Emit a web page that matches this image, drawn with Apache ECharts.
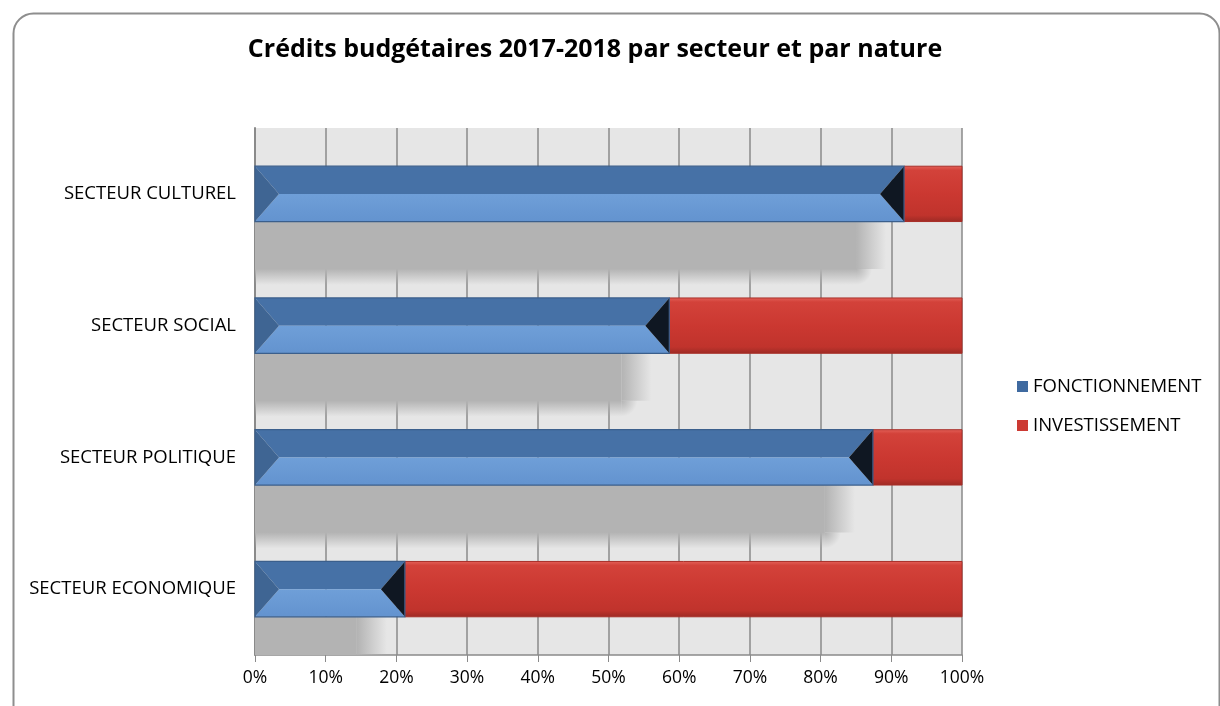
<!DOCTYPE html>
<html>
<head>
<meta charset="utf-8">
<script src="https://cdn.jsdelivr.net/npm/echarts@6/dist/echarts.min.js"></script>
<style>
html,body{margin:0;padding:0;background:#fff;}
#chart{width:1220px;height:706px;}
</style>
</head>
<body>
<div id="chart"></div>
<script>
// Categories (bottom to top, as drawn on the category axis)
const categories = ['SECTEUR ECONOMIQUE', 'SECTEUR POLITIQUE', 'SECTEUR SOCIAL', 'SECTEUR CULTUREL'];
// Share of each nature, in %
const fonctionnement = [21.2, 87.4, 58.6, 91.8];
const investissement = [78.8, 12.6, 41.4, 8.2];
const xTicks = [0, 10, 20, 30, 40, 50, 60, 70, 80, 90, 100];
const seriesNames = ['FONCTIONNEMENT', 'INVESTISSEMENT'];
const titleText = 'Crédits budgétaires 2017-2018 par secteur et par nature';

const FONT = 'Open Sans';
const chart = echarts.init(document.getElementById('chart'), null, {renderer: 'canvas'});

const fData = fonctionnement.map((v, i) => [v, i]);
const iData = investissement.map((v, i) => [fonctionnement[i], i, v]);

function barGeom(api, x0v, x1v, cat) {
  const p0 = api.coord([x0v, cat]);
  const p1 = api.coord([x1v, cat]);
  const band = api.size([0, 1])[1];
  const h = band * 0.42;
  return {x0: p0[0], x1: p1[0], yc: p0[1], yt: p0[1] - h / 2, yb: p0[1] + h / 2, h: h};
}

const SH = 'rgba(179,179,179,1)';
const SH0 = 'rgba(179,179,179,0)';
function renderShadow(params, api) {
  const g = barGeom(api, 0, api.value(0), api.value(1));
  const w = Math.max(0, g.x1 - g.x0 - 18);
  const fade = 30;
  const ws = Math.max(0, w - fade);
  const hTot = g.h + 8;
  const hSolid = g.h - 8;
  const sf = hSolid / hTot;
  return {
    type: 'group',
    children: [
      {type: 'rect', shape: {x: g.x0, y: g.yb, width: ws, height: hTot},
        style: {fill: new echarts.graphic.LinearGradient(0, 0, 0, 1, [
          {offset: 0, color: SH}, {offset: sf, color: SH}, {offset: 1, color: SH0}])}},
      {type: 'rect', shape: {x: g.x0 + ws, y: g.yb, width: w - ws, height: hSolid},
        style: {fill: new echarts.graphic.LinearGradient(0, 0, 1, 0, [
          {offset: 0, color: SH}, {offset: 1, color: SH0}])}},
      {type: 'rect', shape: {x: g.x0 + ws, y: g.yb + hSolid, width: (w - ws) * 0.6, height: hTot - hSolid},
        style: {fill: new echarts.graphic.RadialGradient(0, 0, 1, [
          {offset: 0, color: SH}, {offset: 1, color: SH0}])}}
    ]
  };
}

function renderF(params, api) {
  const g = barGeom(api, 0, api.value(0), api.value(1));
  const b = Math.min(24, (g.x1 - g.x0) / 2);
  const {x0, x1, yt, yb, yc} = g;
  return {
    type: 'group',
    children: [
      {type: 'polygon', shape: {points: [[x0, yt], [x1, yt], [x1 - b, yc], [x0 + b, yc]]},
        style: {fill: '#4671a6'}},
      {type: 'polygon', shape: {points: [[x0 + b, yc], [x1 - b, yc], [x1, yb], [x0, yb]]},
        style: {fill: new echarts.graphic.LinearGradient(0, 0, 0, 1, [
          {offset: 0, color: '#6f9fd8'}, {offset: 1, color: '#6393cf'}])}},
      {type: 'polygon', shape: {points: [[x0, yt], [x0 + b, yc], [x0, yb]]},
        style: {fill: '#3f6593'}},
      {type: 'polygon', shape: {points: [[x1, yt], [x1, yb], [x1 - b, yc]]},
        style: {fill: '#0f1722'}},
      {type: 'rect', shape: {x: x0, y: yt, width: x1 - x0, height: yb - yt},
        style: {fill: null, stroke: '#3b5f8c', lineWidth: 1.2}}
    ]
  };
}

function renderI(params, api) {
  const start = api.value(0);
  const g = barGeom(api, start, start + api.value(2), api.value(1));
  return {
    type: 'group',
    children: [
      {type: 'rect', shape: {x: g.x0, y: g.yt, width: g.x1 - g.x0, height: g.h},
        style: {
          fill: new echarts.graphic.LinearGradient(0, 0, 0, 1, [
            {offset: 0, color: '#e4625a'},
            {offset: 0.08, color: '#d3423a'},
            {offset: 0.5, color: '#cb3831'},
            {offset: 0.88, color: '#c0332c'},
            {offset: 1, color: '#9c2a24'}]),
          stroke: '#a82e28', lineWidth: 1
        }}
    ]
  };
}

const option = {
  backgroundColor: '#ffffff',
  animation: false,
  title: {
    text: titleText,
    left: 590, top: 32, textAlign: 'center',
    textStyle: {fontFamily: FONT, fontWeight: 'bold', fontSize: 25, color: '#000'}
  },
  graphic: [{
    type: 'rect', left: 11, top: 11,
    shape: {x: 0, y: 0, width: 1206, height: 712, r: 20},
    style: {fill: null, stroke: '#8e8e8e', lineWidth: 2},
    silent: true, z: -1
  }],
  legend: {
    orient: 'vertical', left: 1012, top: 372,
    itemWidth: 11, itemHeight: 11, itemGap: 20,
    icon: 'rect',
    textStyle: {fontFamily: FONT, fontSize: 18.5, color: '#000'},
    data: [
      {name: seriesNames[0], itemStyle: {color: '#3f6aa0'}},
      {name: seriesNames[1], itemStyle: {color: '#cc3a33'}}
    ],
    selectedMode: false
  },
  grid: {
    left: 255, right: 258, top: 128, bottom: 51,
    show: true, backgroundColor: '#e6e6e6', borderWidth: 0
  },
  xAxis: {
    type: 'value', min: 0, max: 100, interval: 10,
    axisLine: {show: true, lineStyle: {color: '#8a8a8a', width: 1.5}},
    axisTick: {show: true, length: 7, lineStyle: {color: '#8a8a8a'}},
    splitLine: {show: true, lineStyle: {color: '#8a8a8a', width: 1.5}},
    axisLabel: {formatter: '{value}%', fontFamily: FONT, fontSize: 17.5, color: '#000', margin: 14}
  },
  yAxis: {
    type: 'category', data: categories,
    axisLine: {show: true, lineStyle: {color: '#8a8a8a', width: 2}},
    axisTick: {show: false},
    splitLine: {show: false},
    axisLabel: {fontFamily: FONT, fontSize: 18.5, color: '#000', margin: 19}
  },
  series: [
    {type: 'custom', name: 'shadow', data: fData, encode: {x: 0, y: 1},
      renderItem: renderShadow, clip: true, z: 1, silent: true},
    {type: 'custom', name: seriesNames[1], data: iData, encode: {x: 0, y: 1},
      renderItem: renderI, z: 2, itemStyle: {color: '#cc3a33'}},
    {type: 'custom', name: seriesNames[0], data: fData, encode: {x: 0, y: 1},
      renderItem: renderF, z: 3, itemStyle: {color: '#3f6aa0'}}
  ]
};
chart.setOption(option);
</script>
</body>
</html>
